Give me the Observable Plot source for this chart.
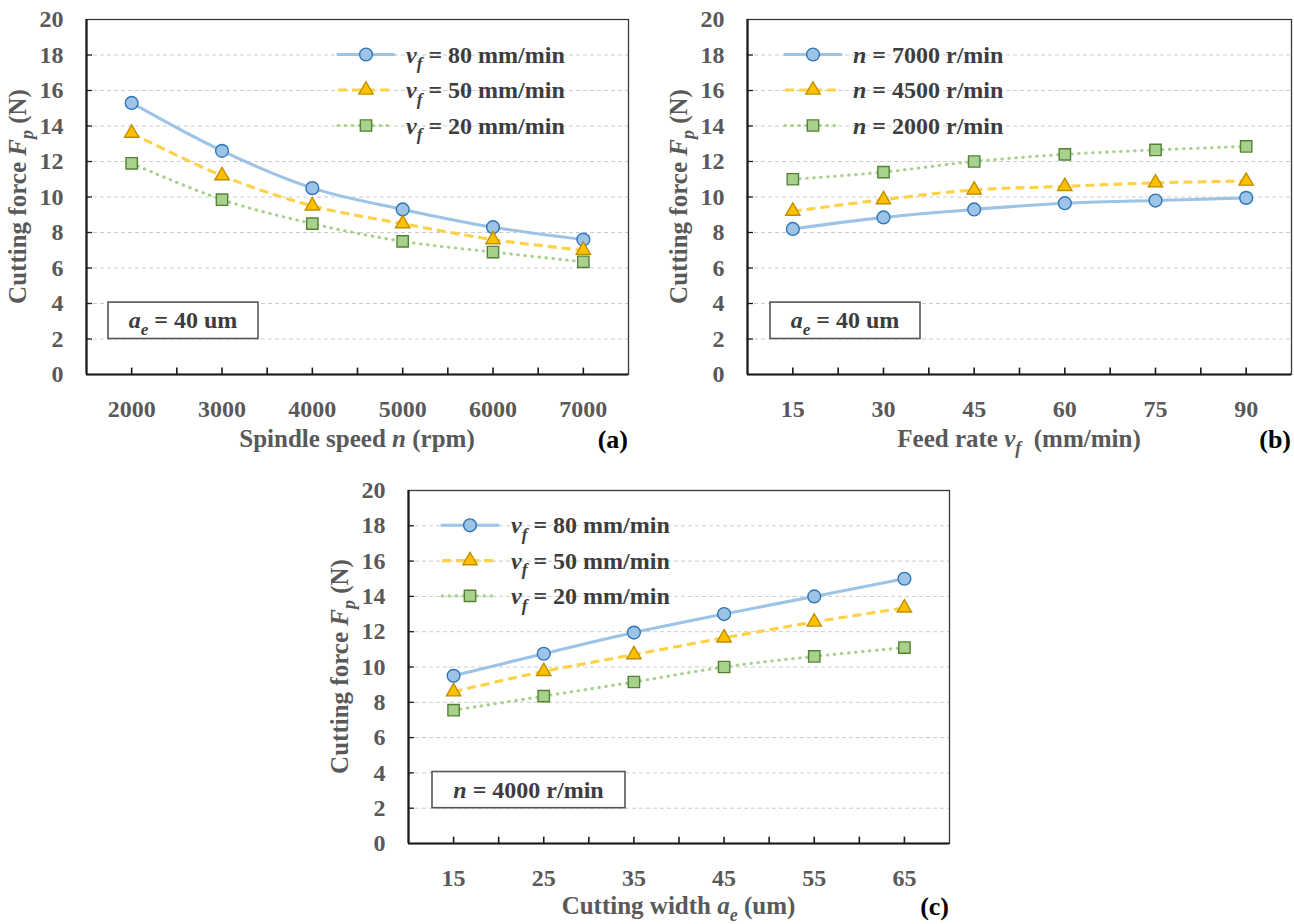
<!DOCTYPE html>
<html><head><meta charset="utf-8">
<script src="https://cdn.jsdelivr.net/npm/d3@7"></script>
<script src="https://cdn.jsdelivr.net/npm/@observablehq/plot@0.6"></script>
<style>
body{margin:0;background:#fff;}
#wrap{position:relative;width:1294px;height:924px;overflow:hidden;}
.panel{position:absolute;}
.panel svg{overflow:visible;background:transparent;}
</style></head><body><div id="wrap"></div>
<script>
// ---------------- data ----------------
const spindleSpeed = [2000, 3000, 4000, 5000, 6000, 7000];
const fpA_vf80 = [15.3, 12.6, 10.5, 9.3, 8.3, 7.6];
const fpA_vf50 = [13.6, 11.2, 9.5, 8.5, 7.6, 7.0];
const fpA_vf20 = [11.9, 9.85, 8.5, 7.5, 6.9, 6.35];

const feedRate = [15, 30, 45, 60, 75, 90];
const fpB_n7000 = [8.2, 8.85, 9.3, 9.65, 9.8, 9.95];
const fpB_n4500 = [9.2, 9.85, 10.4, 10.6, 10.8, 10.9];
const fpB_n2000 = [11.0, 11.4, 12.0, 12.4, 12.65, 12.85];

const cuttingWidth = [15, 25, 35, 45, 55, 65];
const fpC_vf80 = [9.5, 10.75, 11.95, 13.0, 14.0, 15.0];
const fpC_vf50 = [8.6, 9.75, 10.7, 11.65, 12.55, 13.35];
const fpC_vf20 = [7.55, 8.35, 9.15, 10.0, 10.6, 11.1];

const yTicks = [0, 2, 4, 6, 8, 10, 12, 14, 16, 18, 20];
const gridTicks = [2, 4, 6, 8, 10, 12, 14, 16, 18];

const legendVf = [
  [{t: "v", i: true}, {t: "f", i: true, sub: true}, {t: " = 80 mm/min"}],
  [{t: "v", i: true}, {t: "f", i: true, sub: true}, {t: " = 50 mm/min"}],
  [{t: "v", i: true}, {t: "f", i: true, sub: true}, {t: " = 20 mm/min"}]
];
const legendN = [
  [{t: "n", i: true}, {t: " = 7000 r/min"}],
  [{t: "n", i: true}, {t: " = 4500 r/min"}],
  [{t: "n", i: true}, {t: " = 2000 r/min"}]
];
const yTitle = [{t: "Cutting force "}, {t: "F", i: true}, {t: "p", i: true, sub: true}, {t: " (N)"}];
const xTitleA = [{t: "Spindle speed "}, {t: "n", i: true}, {t: " (rpm)"}];
const xTitleB = [{t: "Feed rate "}, {t: "v", i: true}, {t: "f", i: true, sub: true}, {t: "  (mm/min)"}];
const xTitleC = [{t: "Cutting width "}, {t: "a", i: true}, {t: "e", i: true, sub: true}, {t: " (um)"}];
const boxAe = [{t: "a", i: true}, {t: "e", i: true, sub: true}, {t: " = 40 um"}];
const boxN = [{t: "n", i: true}, {t: " = 4000 r/min"}];

// ---------------- style ----------------
const FONT = '"Liberation Serif","Times New Roman",serif';
const GRAY = "#595959";
const STY = [
  {line: "#9DC3E6", dash: undefined, cap: "round", symbol: "circle", fill: "#9DC3E6", stroke: "#2E75B6", r: 6.4},
  {line: "#FFD146", dash: "9,5", cap: "butt", symbol: "triangle", fill: "#FFC000", stroke: "#BF8F00", r: 5.3},
  {line: "#A9D18E", dash: "0.5,6.5", cap: "round", symbol: "square", fill: "#A9D18E", stroke: "#548235", r: 6.4}
];

function rich(sel, segs, size) {
  const sh = size * 0.28;
  let shifted = false;
  segs.forEach(s => {
    const ts = sel.append("tspan").text(s.t);
    if (s.i) ts.attr("font-style", "italic");
    if (s.sub && !shifted) { ts.attr("dy", sh).attr("font-size", size * 0.72); shifted = true; }
    else if (!s.sub && shifted) { ts.attr("dy", -sh); shifted = false; }
  });
}

function makePanel(cfg) {
  const rows = [];
  cfg.series.forEach((vals, k) => cfg.xs.forEach((x, j) => rows.push({x, y: vals[j], k})));
  const tickLen = (cfg.xDomain[1] - cfg.xDomain[0]) * 0.011;
  const marks = [
    Plot.ruleY(gridTicks, {stroke: "#cccccc", strokeOpacity: 1, strokeDasharray: "4,3", strokeWidth: 1}),
    Plot.frame({stroke: "#3a3a3a", strokeWidth: 1.3}),
    Plot.ruleY([0], {stroke: "#1a1a1a", strokeWidth: 2.2}),
    Plot.ruleX([cfg.xDomain[0]], {stroke: "#1a1a1a", strokeWidth: 2.2}),
    Plot.ruleX(cfg.minor, {y1: 0, y2: 0.36, stroke: "#1a1a1a", strokeWidth: 1.6}),
    Plot.ruleY(gridTicks, {x1: cfg.xDomain[0], x2: cfg.xDomain[0] + tickLen, stroke: "#1a1a1a", strokeWidth: 1.3}),
    Plot.axisY({ticks: yTicks, tickSize: 0, tickPadding: 23}),
    Plot.axisX({ticks: cfg.xs, tickSize: 0, tickPadding: 25, tickFormat: d => String(d)})
  ];
  cfg.series.forEach((vals, k) => {
    const st = STY[k];
    marks.push(Plot.line(rows.filter(r => r.k === k), {x: "x", y: "y", curve: "catmull-rom", stroke: st.line, strokeWidth: 3.1, strokeDasharray: st.dash, strokeLinecap: st.cap}));
  });
  cfg.series.forEach((vals, k) => {
    const st = STY[k];
    marks.push(Plot.dot(rows.filter(r => r.k === k), {x: "x", y: "y", symbol: st.symbol, r: st.r, fill: st.fill, stroke: st.stroke, strokeWidth: 1.4}));
  });
  const svg = Plot.plot({
    width: cfg.width, height: cfg.height,
    marginTop: cfg.mt, marginBottom: cfg.mb, marginLeft: cfg.ml, marginRight: cfg.mr,
    x: {type: "linear", domain: cfg.xDomain, label: null},
    y: {domain: [0, 20], label: null},
    style: {fontFamily: FONT, fontSize: "24px", fontWeight: "bold", color: GRAY, background: "transparent", overflow: "visible"},
    marks
  });
  const sx = svg.scale("x"), sy = svg.scale("y");
  const g = d3.select(svg).append("g").attr("font-family", FONT).attr("font-weight", "bold").attr("text-anchor", "start");
  const x0 = sx.apply(cfg.xDomain[0]), x1 = sx.apply(cfg.xDomain[1]);
  const yb = sy.apply(0), yt = sy.apply(20);

  // legend
  const legRows = [18, 16, 14];
  cfg.legend.forEach((segs, k) => {
    const st = STY[k];
    const y = sy.apply(legRows[k]);
    const lx = cfg.legX, lw = 56;
    g.append("line").attr("x1", lx).attr("x2", lx + lw).attr("y1", y).attr("y2", y)
      .attr("stroke", st.line).attr("stroke-width", 3.1).attr("stroke-dasharray", st.dash || null).attr("stroke-linecap", st.cap);
    g.append("path").attr("transform", `translate(${lx + lw / 2},${y})`)
      .attr("d", d3.symbol(st.symbol === "circle" ? d3.symbolCircle : st.symbol === "triangle" ? d3.symbolTriangle : d3.symbolSquare, Math.PI * st.r * st.r)())
      .attr("fill", st.fill).attr("stroke", st.stroke).attr("stroke-width", 1.4);
    const t = g.append("text").attr("x", cfg.legTextX).attr("y", y + 8).attr("font-size", 24).attr("fill", "#3d3d3d");
    rich(t, segs, 24);
  });

  // annotation box
  const by1 = sy.apply(4.05), by2 = sy.apply(2.0);
  g.append("rect").attr("x", cfg.box[0]).attr("y", by1).attr("width", cfg.box[1] - cfg.box[0]).attr("height", by2 - by1)
    .attr("fill", "#fff").attr("stroke", "#555").attr("stroke-width", 1.6);
  const bt = g.append("text").attr("x", (cfg.box[0] + cfg.box[1]) / 2).attr("y", (by1 + by2) / 2 + 8)
    .attr("text-anchor", "middle").attr("font-size", 24).attr("fill", "#3d3d3d");
  rich(bt, cfg.boxText, 24);

  // axis titles
  const xt = g.append("text").attr("x", (x0 + x1) / 2).attr("y", yb + cfg.titleDy).attr("text-anchor", "middle")
    .attr("font-size", 25).attr("fill", GRAY);
  rich(xt, cfg.xTitle, 25);
  const ytt = g.append("text").attr("transform", `translate(${x0 - 60},${(yb + yt) / 2}) rotate(-90)`)
    .attr("text-anchor", "middle").attr("font-size", 25).attr("fill", GRAY);
  rich(ytt, yTitle, 25);
  g.append("text").attr("x", x1).attr("y", yb + cfg.titleDy + 1).attr("text-anchor", "end").attr("font-size", 26)
    .attr("fill", "#000").text(cfg.tag);

  const div = document.createElement("div");
  div.className = "panel";
  div.style.left = cfg.left + "px";
  div.style.top = cfg.top + "px";
  div.appendChild(svg);
  document.getElementById("wrap").appendChild(div);
}

makePanel({
  left: 0, top: 0, width: 640, height: 460, mt: 19, mb: 86, ml: 86, mr: 12,
  xDomain: [1500, 7500], minor: d3.range(2000, 7001, 500), xs: spindleSpeed,
  series: [fpA_vf80, fpA_vf50, fpA_vf20], legend: legendVf, legX: 338, legTextX: 406,
  box: [108, 258], boxText: boxAe, xTitle: xTitleA, tag: "(a)", titleDy: 73
});
makePanel({
  left: 650, top: 0, width: 644, height: 460, mt: 19, mb: 86, ml: 97, mr: 3,
  xDomain: [7.5, 97.5], minor: d3.range(15, 90.1, 7.5), xs: feedRate,
  series: [fpB_n7000, fpB_n4500, fpB_n2000], legend: legendN, legX: 135, legTextX: 203,
  box: [120, 270], boxText: boxAe, xTitle: xTitleB, tag: "(b)", titleDy: 73
});
makePanel({
  left: 320, top: 470, width: 640, height: 454, mt: 20, mb: 81, ml: 88, mr: 11,
  xDomain: [10, 70], minor: d3.range(15, 65.1, 5), xs: cuttingWidth,
  series: [fpC_vf80, fpC_vf50, fpC_vf20], legend: legendVf, legX: 122, legTextX: 191,
  box: [112, 305], boxText: boxN, xTitle: xTitleC, tag: "(c)", titleDy: 71
});
</script></body></html>
